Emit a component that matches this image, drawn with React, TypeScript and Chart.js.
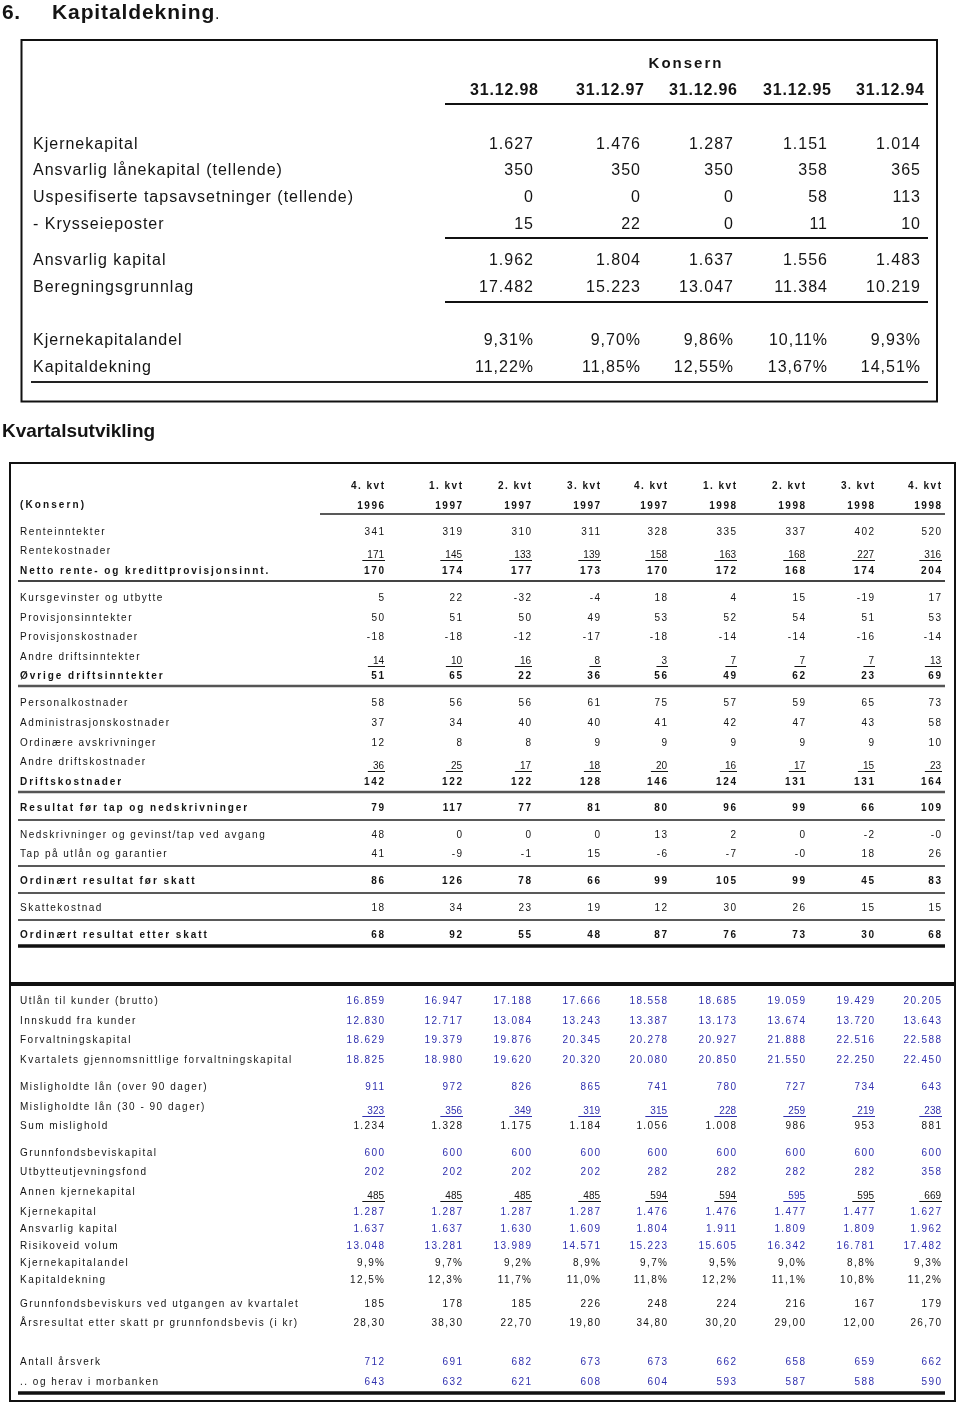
import React, { useEffect, useRef } from 'react';
import { Chart, registerables } from 'chart.js';
Chart.register(...registerables);

// ---------------- Data: Kapitaldekning (Konsern) ----------------
const topColumns = ['31.12.98', '31.12.97', '31.12.96', '31.12.95', '31.12.94'];
const kjernekapital = [1627, 1476, 1287, 1151, 1014];
const ansvarligLanekapital = [350, 350, 350, 358, 365];
const uspesifiserteTapsavsetninger = [0, 0, 0, 58, 113];
const krysseieposter = [15, 22, 0, 11, 10];
const ansvarligKapital = [1962, 1804, 1637, 1556, 1483];
const beregningsgrunnlag = [17482, 15223, 13047, 11384, 10219];
const kjernekapitalandel = [9.31, 9.7, 9.86, 10.11, 9.93];
const kapitaldekning = [11.22, 11.85, 12.55, 13.67, 14.51];

// ---------------- Data: Kvartalsutvikling ----------------
const quarterLabels = ['4. kvt', '1. kvt', '2. kvt', '3. kvt', '4. kvt', '1. kvt', '2. kvt', '3. kvt', '4. kvt'];
const quarterYears = ['1996', '1997', '1997', '1997', '1997', '1998', '1998', '1998', '1998'];
const renteinntekter = [341, 319, 310, 311, 328, 335, 337, 402, 520];
const rentekostnader = [171, 145, 133, 139, 158, 163, 168, 227, 316];
const nettoRente = [170, 174, 177, 173, 170, 172, 168, 174, 204];
const kursgevinster = [5, 22, -32, -4, 18, 4, 15, -19, 17];
const provisjonsinntekter = [50, 51, 50, 49, 53, 52, 54, 51, 53];
const provisjonskostnader = [-18, -18, -12, -17, -18, -14, -14, -16, -14];
const andreDriftsinntekter = [14, 10, 16, 8, 3, 7, 7, 7, 13];
const ovrigeDriftsinntekter = [51, 65, 22, 36, 56, 49, 62, 23, 69];
const personalkostnader = [58, 56, 56, 61, 75, 57, 59, 65, 73];
const administrasjonskostnader = [37, 34, 40, 40, 41, 42, 47, 43, 58];
const ordinaereAvskrivninger = [12, 8, 8, 9, 9, 9, 9, 9, 10];
const andreDriftskostnader = [36, 25, 17, 18, 20, 16, 17, 15, 23];
const driftskostnader = [142, 122, 122, 128, 146, 124, 131, 131, 164];
const resultatForTap = [79, 117, 77, 81, 80, 96, 99, 66, 109];
const nedskrivninger = [48, 0, 0, 0, 13, 2, 0, -2, -0];
const tapUtlan = [41, -9, -1, 15, -6, -7, -0, 18, 26];
const resultatForSkatt = [86, 126, 78, 66, 99, 105, 99, 45, 83];
const skattekostnad = [18, 34, 23, 19, 12, 30, 26, 15, 15];
const resultatEtterSkatt = [68, 92, 55, 48, 87, 76, 73, 30, 68];
const utlanKunder = [16859, 16947, 17188, 17666, 18558, 18685, 19059, 19429, 20205];
const innskuddKunder = [12830, 12717, 13084, 13243, 13387, 13173, 13674, 13720, 13643];
const forvaltningskapital = [18629, 19379, 19876, 20345, 20278, 20927, 21888, 22516, 22588];
const snittForvaltningskapital = [18825, 18980, 19620, 20320, 20080, 20850, 21550, 22250, 22450];
const mislighold90 = [911, 972, 826, 865, 741, 780, 727, 734, 643];
const mislighold30 = [323, 356, 349, 319, 315, 228, 259, 219, 238];
const sumMislighold = [1234, 1328, 1175, 1184, 1056, 1008, 986, 953, 881];
const grunnfondsbeviskapital = [600, 600, 600, 600, 600, 600, 600, 600, 600];
const utbytteutjevningsfond = [202, 202, 202, 202, 282, 282, 282, 282, 358];
const annenKjernekapital = [485, 485, 485, 485, 594, 594, 595, 595, 669];
const kjernekapitalQ = [1287, 1287, 1287, 1287, 1476, 1476, 1477, 1477, 1627];
const ansvarligKapitalQ = [1637, 1637, 1630, 1609, 1804, 1911, 1809, 1809, 1962];
const risikoveidVolum = [13048, 13281, 13989, 14571, 15223, 15605, 16342, 16781, 17482];
const kjernekapitalandelQ = [9.9, 9.7, 9.2, 8.9, 9.7, 9.5, 9.0, 8.8, 9.3];
const kapitaldekningQ = [12.5, 12.3, 11.7, 11.0, 11.8, 12.2, 11.1, 10.8, 11.2];
const grunnfondsbeviskurs = [185, 178, 185, 226, 248, 224, 216, 167, 179];
const arsresultatPrBevis = [28.3, 38.3, 22.7, 19.8, 34.8, 30.2, 29.0, 12.0, 26.7];
const antallArsverk = [712, 691, 682, 673, 673, 662, 658, 659, 662];
const herafMorbanken = [643, 632, 621, 608, 604, 593, 587, 588, 590];

// ---------------- Formatting ----------------
function fmtInt(v: number): string {
  if (Object.is(v, -0)) return '-0';
  const s = Math.abs(v).toString().replace(/\B(?=(\d{3})+(?!\d))/g, '.');
  return (v < 0 ? '-' : '') + s;
}
function fmtDec(v: number, d: number): string {
  return v.toFixed(d).replace('.', ',');
}
function fmtPct(v: number, d: number): string {
  return fmtDec(v, d) + '%';
}

// ---------------- Layout ----------------
const W = 960;
const H = 1407;
const FONT = '"Liberation Sans", Arial, sans-serif';
const INK = '#141414';
const BLUE = '#2f2fae';

const topValueRight = [533, 640, 733, 827, 920];
const topHeaderRight = [538, 644, 737, 831, 924];
const qRight = [384, 462, 531, 600, 667, 736, 805, 874, 941];

type TopRow = { label: string; vals: string[]; y: number };
const topRows: TopRow[] = [
  { label: 'Kjernekapital', vals: kjernekapital.map(fmtInt), y: 149 },
  { label: 'Ansvarlig lånekapital (tellende)', vals: ansvarligLanekapital.map(fmtInt), y: 175 },
  { label: 'Uspesifiserte tapsavsetninger (tellende)', vals: uspesifiserteTapsavsetninger.map(fmtInt), y: 202 },
  { label: '- Krysseieposter', vals: krysseieposter.map(fmtInt), y: 229 },
  { label: 'Ansvarlig kapital', vals: ansvarligKapital.map(fmtInt), y: 265 },
  { label: 'Beregningsgrunnlag', vals: beregningsgrunnlag.map(fmtInt), y: 292 },
  { label: 'Kjernekapitalandel', vals: kjernekapitalandel.map((v) => fmtPct(v, 2)), y: 345 },
  { label: 'Kapitaldekning', vals: kapitaldekning.map((v) => fmtPct(v, 2)), y: 372 },
];

type QRow = {
  label: string;
  vals: string[];
  y: number;
  bold?: boolean;
  under?: boolean;
  color?: string | string[];
};
const blueAt = (idx: number[]) => quarterLabels.map((_, i) => (idx.includes(i) ? BLUE : INK));
const qRows: QRow[] = [
  { label: 'Renteinntekter', vals: renteinntekter.map(fmtInt), y: 535 },
  { label: 'Rentekostnader', vals: rentekostnader.map(fmtInt), y: 554, under: true },
  { label: 'Netto rente- og kredittprovisjonsinnt.', vals: nettoRente.map(fmtInt), y: 574, bold: true },
  { label: 'Kursgevinster og utbytte', vals: kursgevinster.map(fmtInt), y: 601 },
  { label: 'Provisjonsinntekter', vals: provisjonsinntekter.map(fmtInt), y: 621 },
  { label: 'Provisjonskostnader', vals: provisjonskostnader.map(fmtInt), y: 640 },
  { label: 'Andre driftsinntekter', vals: andreDriftsinntekter.map(fmtInt), y: 660, under: true },
  { label: 'Øvrige driftsinntekter', vals: ovrigeDriftsinntekter.map(fmtInt), y: 679, bold: true },
  { label: 'Personalkostnader', vals: personalkostnader.map(fmtInt), y: 706 },
  { label: 'Administrasjonskostnader', vals: administrasjonskostnader.map(fmtInt), y: 726 },
  { label: 'Ordinære avskrivninger', vals: ordinaereAvskrivninger.map(fmtInt), y: 746 },
  { label: 'Andre driftskostnader', vals: andreDriftskostnader.map(fmtInt), y: 765, under: true },
  { label: 'Driftskostnader', vals: driftskostnader.map(fmtInt), y: 785, bold: true },
  { label: 'Resultat før tap og nedskrivninger', vals: resultatForTap.map(fmtInt), y: 811, bold: true },
  { label: 'Nedskrivninger og gevinst/tap ved avgang', vals: nedskrivninger.map(fmtInt), y: 838 },
  { label: 'Tap på utlån og garantier', vals: tapUtlan.map(fmtInt), y: 857 },
  { label: 'Ordinært resultat før skatt', vals: resultatForSkatt.map(fmtInt), y: 884, bold: true },
  { label: 'Skattekostnad', vals: skattekostnad.map(fmtInt), y: 911 },
  { label: 'Ordinært resultat etter skatt', vals: resultatEtterSkatt.map(fmtInt), y: 938, bold: true },
  { label: 'Utlån til kunder (brutto)', vals: utlanKunder.map(fmtInt), y: 1004, color: BLUE },
  { label: 'Innskudd fra kunder', vals: innskuddKunder.map(fmtInt), y: 1024, color: BLUE },
  { label: 'Forvaltningskapital', vals: forvaltningskapital.map(fmtInt), y: 1043, color: BLUE },
  { label: 'Kvartalets gjennomsnittlige forvaltningskapital', vals: snittForvaltningskapital.map(fmtInt), y: 1063, color: BLUE },
  { label: 'Misligholdte lån (over 90 dager)', vals: mislighold90.map(fmtInt), y: 1090, color: BLUE },
  { label: 'Misligholdte lån (30 - 90 dager)', vals: mislighold30.map(fmtInt), y: 1110, under: true, color: BLUE },
  { label: 'Sum mislighold', vals: sumMislighold.map(fmtInt), y: 1129 },
  { label: 'Grunnfondsbeviskapital', vals: grunnfondsbeviskapital.map(fmtInt), y: 1156, color: BLUE },
  { label: 'Utbytteutjevningsfond', vals: utbytteutjevningsfond.map(fmtInt), y: 1175, color: BLUE },
  { label: 'Annen kjernekapital', vals: annenKjernekapital.map(fmtInt), y: 1195, under: true, color: blueAt([6]) },
  { label: 'Kjernekapital', vals: kjernekapitalQ.map(fmtInt), y: 1215, color: BLUE },
  { label: 'Ansvarlig kapital', vals: ansvarligKapitalQ.map(fmtInt), y: 1232, color: BLUE },
  { label: 'Risikoveid volum', vals: risikoveidVolum.map(fmtInt), y: 1249, color: BLUE },
  { label: 'Kjernekapitalandel', vals: kjernekapitalandelQ.map((v) => fmtPct(v, 1)), y: 1266 },
  { label: 'Kapitaldekning', vals: kapitaldekningQ.map((v) => fmtPct(v, 1)), y: 1283 },
  { label: 'Grunnfondsbeviskurs ved utgangen av kvartalet', vals: grunnfondsbeviskurs.map(fmtInt), y: 1307 },
  { label: 'Årsresultat etter skatt pr grunnfondsbevis (i kr)', vals: arsresultatPrBevis.map((v) => fmtDec(v, 2)), y: 1326 },
  { label: 'Antall årsverk', vals: antallArsverk.map(fmtInt), y: 1365, color: BLUE },
  { label: '.. og herav i morbanken', vals: herafMorbanken.map(fmtInt), y: 1385, color: BLUE },
];

// horizontal rules: [y, x0, x1, width, color]
const rules: [number, number, number, number, string][] = [
  [104, 445, 928, 2, '#111'],
  [238, 445, 928, 2, '#111'],
  [302, 445, 928, 2, '#111'],
  [382, 31, 928, 2, '#222'],
  [514, 320, 945, 1.6, '#222'],
  [581, 18, 945, 2, '#444'],
  [686, 18, 945, 2.5, '#555'],
  [792, 18, 945, 2.5, '#555'],
  [820, 18, 945, 1.6, '#222'],
  [866, 18, 945, 1.6, '#222'],
  [893, 18, 945, 1.6, '#222'],
  [920, 18, 945, 1.6, '#222'],
  [946, 18, 945, 3.5, '#111'],
  [984, 10, 955, 4, '#111'],
  [1393, 18, 945, 3.5, '#111'],
];
// boxes: [x0, y0, x1, y1]
const boxes: [number, number, number, number][] = [
  [21.5, 40, 937, 401.5],
  [10, 463, 955, 1401],
];

function drawText(
  ctx: CanvasRenderingContext2D,
  s: string,
  x: number,
  y: number,
  font: string,
  align: CanvasTextAlign,
  color: string,
  spacing: number
) {
  ctx.font = font;
  ctx.fillStyle = color;
  (ctx as any).letterSpacing = spacing + 'px';
  ctx.textAlign = align;
  ctx.textBaseline = 'alphabetic';
  ctx.fillText(s, align === 'right' ? x + spacing : x, y);
}

const tablePlugin = {
  id: 'tableText',
  afterDraw(chart: any) {
    const ctx: CanvasRenderingContext2D = chart.ctx;
    const X = (v: number) => chart.scales.x.getPixelForValue(v);
    const Y = (v: number) => chart.scales.y.getPixelForValue(v);
    ctx.save();

    // boxes
    ctx.strokeStyle = '#111';
    ctx.lineWidth = 2;
    boxes.forEach(([x0, y0, x1, y1]) => {
      ctx.strokeRect(X(x0), Y(y0), X(x1) - X(x0), Y(y1) - Y(y0));
    });
    // rules
    rules.forEach(([y, x0, x1, w, c]) => {
      ctx.strokeStyle = c;
      ctx.lineWidth = w;
      ctx.beginPath();
      ctx.moveTo(X(x0), Y(y));
      ctx.lineTo(X(x1), Y(y));
      ctx.stroke();
    });

    // titles
    drawText(ctx, '6.', X(2), Y(19), `bold 21px ${FONT}`, 'left', INK, 0.5);
    drawText(ctx, 'Kapitaldekning', X(52), Y(19), `bold 21px ${FONT}`, 'left', INK, 0.9);
    drawText(ctx, '.', X(215), Y(19), `16px ${FONT}`, 'left', INK, 0);
    drawText(ctx, 'Kvartalsutvikling', X(2), Y(437), `bold 19px ${FONT}`, 'left', INK, 0);

    // top table
    drawText(ctx, 'Konsern', X(686), Y(68), `bold 15px ${FONT}`, 'center', INK, 2);
    topColumns.forEach((c, i) => {
      drawText(ctx, c, X(topHeaderRight[i]), Y(95), `bold 16px ${FONT}`, 'right', INK, 0.8);
    });
    topRows.forEach((r) => {
      drawText(ctx, r.label, X(33), Y(r.y), `16px ${FONT}`, 'left', INK, 1.0);
      r.vals.forEach((v, i) => {
        drawText(ctx, v, X(topValueRight[i]), Y(r.y), `16px ${FONT}`, 'right', INK, 1.0);
      });
    });

    // quarterly table
    quarterLabels.forEach((q, i) => {
      drawText(ctx, q, X(qRight[i]), Y(489), `bold 10px ${FONT}`, 'right', INK, 1.5);
      drawText(ctx, quarterYears[i], X(qRight[i]), Y(509), `bold 10px ${FONT}`, 'right', INK, 1.5);
    });
    drawText(ctx, '(Konsern)', X(20), Y(508), `bold 10px ${FONT}`, 'left', INK, 2.1);

    qRows.forEach((r) => {
      const wt = r.bold ? 'bold ' : '';
      const sp = r.bold ? 1.95 : 1.5;
      drawText(ctx, r.label, X(20), Y(r.y), `${wt}10px ${FONT}`, 'left', INK, sp);
      r.vals.forEach((v, i) => {
        const col = Array.isArray(r.color) ? r.color[i] : r.color || INK;
        if (r.under) {
          const yb = Y(r.y + 4);
          ctx.font = `10px ${FONT}`;
          (ctx as any).letterSpacing = '0px';
          const w = ctx.measureText(v).width;
          drawText(ctx, v, X(qRight[i]), yb, `10px ${FONT}`, 'right', col, 0);
          ctx.strokeStyle = col;
          ctx.lineWidth = 1;
          ctx.beginPath();
          ctx.moveTo(X(qRight[i]) - w - 5, yb + 2.5);
          ctx.lineTo(X(qRight[i]) + 1, yb + 2.5);
          ctx.stroke();
        } else {
          drawText(ctx, v, X(qRight[i]), Y(r.y), `${wt}10px ${FONT}`, 'right', col, r.bold ? 1.6 : 1.4);
        }
      });
    });

    ctx.restore();
  },
};

export default function App() {
  const canvasRef = useRef<HTMLCanvasElement | null>(null);
  useEffect(() => {
    if (!canvasRef.current) return;
    const chart = new Chart(canvasRef.current, {
      type: 'scatter',
      data: { datasets: [] },
      options: {
        animation: false,
        responsive: false,
        devicePixelRatio: 1,
        layout: { padding: 0 },
        scales: {
          x: { type: 'linear', min: 0, max: W, display: false },
          y: { type: 'linear', min: 0, max: H, reverse: true, display: false },
        },
        plugins: { legend: { display: false }, tooltip: { enabled: false } },
      },
      plugins: [tablePlugin],
    } as any);
    return () => chart.destroy();
  }, []);
  return (
    <div style={{ position: 'absolute', left: 0, top: 0, width: W, height: H, background: '#fff' }}>
      <canvas ref={canvasRef} width={W} height={H} style={{ display: 'block' }} />
    </div>
  );
}
